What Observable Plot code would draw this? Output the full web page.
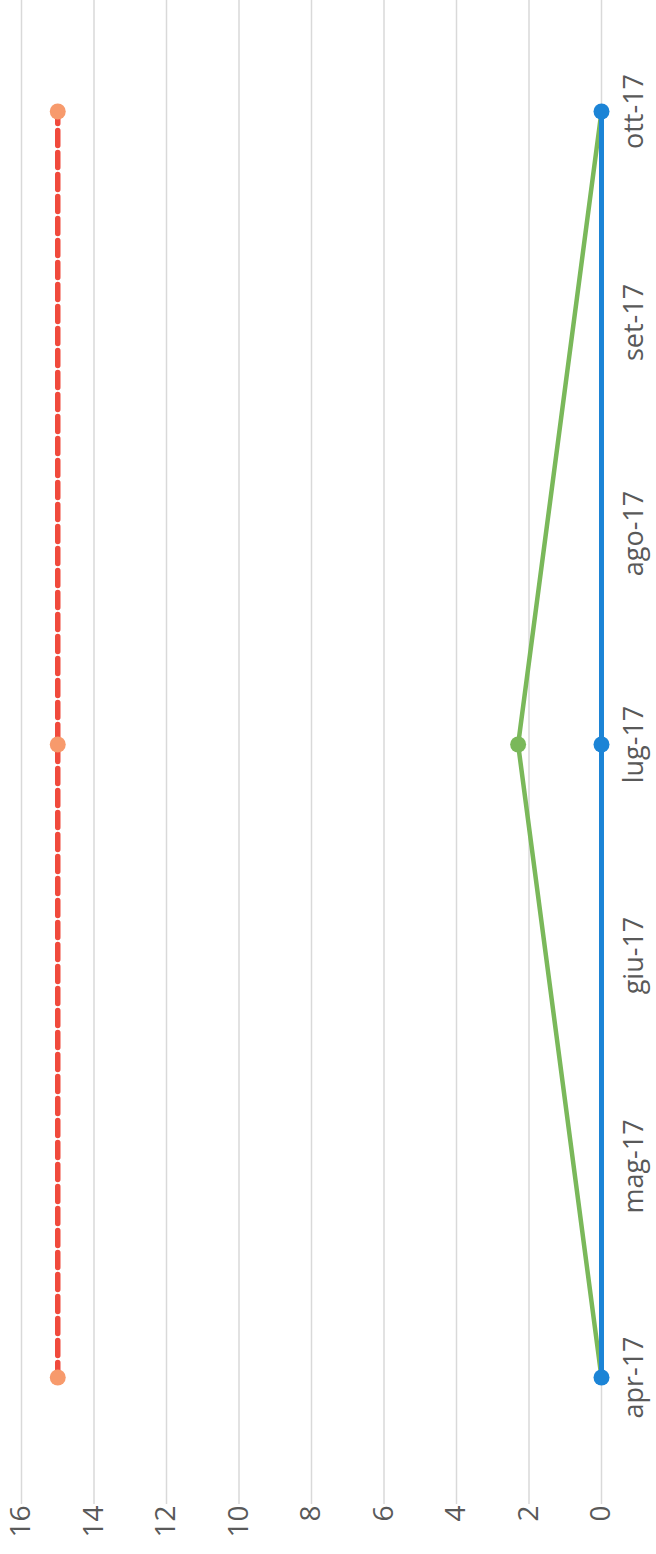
<!DOCTYPE html>
<html>
<head>
<meta charset="utf-8">
<script src="https://cdn.jsdelivr.net/npm/d3@7"></script>
<script src="https://cdn.jsdelivr.net/npm/@observablehq/plot@0.6"></script>
<style>
  html, body { margin: 0; padding: 0; background: #fff; }
  #page { position: relative; width: 656px; height: 1554px; overflow: hidden; background: #fff; }
  #chart { position: absolute; left: 0; top: 0; width: 1554px; height: 656px;
           transform-origin: 0 0; transform: translate(0px, 1554px) rotate(-90deg); }
</style>
</head>
<body>
<div id="page"><div id="chart"></div></div>
<script>
const months = ["apr-17", "mag-17", "giu-17", "lug-17", "ago-17", "set-17", "ott-17"];
const pointMonths = ["apr-17", "lug-17", "ott-17"];
const targetValues = [15, 15, 15];
const blueValues = [0, 0, 0];
const greenValues = [0, 2.3, 0];
const yTicks = [0, 2, 4, 6, 8, 10, 12, 14, 16];

const mk = (vals) => pointMonths.map((m, i) => ({month: m, value: vals[i]}));
const target = mk(targetValues);
const blue = mk(blueValues);
const green = mk(greenValues);

const font = "'Open Sans', 'Noto Sans', sans-serif";

const chart = Plot.plot({
  width: 1554,
  height: 656,
  marginLeft: 50,
  marginRight: 0,
  marginTop: 21,
  marginBottom: 55,
  style: {fontFamily: font, background: "#fff"},
  x: {type: "point", domain: months, range: [174, 1444], padding: 0},
  y: {domain: [0, 16]},
  marks: [
    Plot.gridY(yTicks, {stroke: "#d9d9d9", strokeOpacity: 1, strokeWidth: 1.5}),
    Plot.axisY(yTicks, {tickSize: 0, tickPadding: 2, fontSize: 28, fill: "#595959", label: null}),
    Plot.axisX(months, {tickSize: 0, tickPadding: 22, fontSize: 27, fill: "#595959", label: null}),
    Plot.line(target, {x: "month", y: "value", stroke: "#f04a3c", strokeWidth: 5.5, strokeDasharray: "15,7"}),
    Plot.line(green, {x: "month", y: "value", stroke: "#7ab85a", strokeWidth: 4.5}),
    Plot.line(blue, {x: "month", y: "value", stroke: "#1c84d6", strokeWidth: 5}),
    Plot.dot(target, {x: "month", y: "value", r: 8, fill: "#f79a6c", stroke: "none"}),
    Plot.dot(green, {x: "month", y: "value", r: 8, fill: "#7ab85a", stroke: "none", filter: d => d.value > 0}),
    Plot.dot(blue, {x: "month", y: "value", r: 8, fill: "#1c84d6", stroke: "none"})
  ]
});
document.getElementById("chart").appendChild(chart);
</script>
</body>
</html>
